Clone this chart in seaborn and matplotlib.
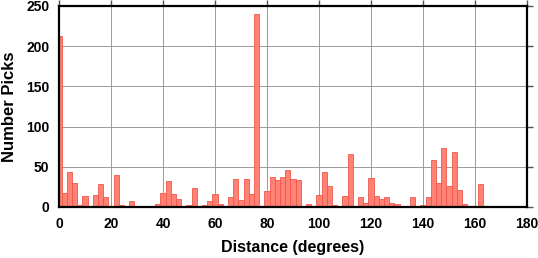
import numpy as np
import pandas as pd
import matplotlib
matplotlib.use("Agg")
import matplotlib.pyplot as plt
import seaborn as sns

# Histogram bins centred on even degrees (2-degree width)
distance_centers = list(range(0, 181, 2))
pick_counts = [
    213, 18, 43, 30, 2, 14, 0, 15, 28, 12,      # 0-18
    1, 40, 2, 0, 8, 0, 0, 0, 0, 4,              # 20-38
    18, 32, 16, 10, 0, 3, 24, 0, 3, 7,          # 40-58
    16, 4, 1, 12, 35, 9, 35, 16, 240, 0,        # 60-78
    20, 37, 34, 37, 46, 35, 34, 0, 4, 0,        # 80-98
    15, 43, 26, 2, 1, 14, 66, 0, 13, 5,         # 100-118
    36, 14, 10, 13, 5, 4, 0, 0, 12, 0,          # 120-138
    3, 12, 59, 30, 74, 26, 69, 21, 4, 0,        # 140-158
    1, 28, 1, 0, 0, 0, 0, 0, 0, 0,              # 160-178
    0,                                           # 180
]
x_ticks = [0, 20, 40, 60, 80, 100, 120, 140, 160, 180]
y_ticks = [0, 50, 100, 150, 200, 250]

df = pd.DataFrame({"distance": distance_centers, "count": pick_counts})

sns.set_style("white")
plt.rcParams["font.family"] = ["Liberation Sans", "DejaVu Sans"]
plt.rcParams["font.weight"] = "bold"
plt.rcParams["text.color"] = "black"
plt.rcParams["axes.labelcolor"] = "black"

fig = plt.figure(figsize=(5.38, 2.58), dpi=100)
ax = fig.add_axes([59 / 538, 1 - 207 / 258, 468 / 538, 201 / 258])

sns.histplot(data=df, x="distance", weights="count",
             binwidth=2, binrange=(-1, 181), ax=ax,
             color="#ff7b6e", alpha=0.95, edgecolor="#f0574c",
             linewidth=0.6)

ax.set_xlim(0, 180)
ax.set_ylim(0, 250)
ax.set_xticks(x_ticks)
ax.set_yticks(y_ticks)
ax.grid(True, color="#9a9a9a", linewidth=0.7, zorder=0)
ax.set_axisbelow(True)
for s in ax.spines.values():
    s.set_visible(True)
    s.set_color("black")
    s.set_linewidth(1.6)
ax.tick_params(axis="both", which="major", direction="out", length=4,
               width=1.0, color="#555555", labelcolor="black", labelsize=10,
               top=True, right=True, labeltop=False, labelright=False, pad=3)
for lab in ax.get_xticklabels() + ax.get_yticklabels():
    lab.set_fontweight("bold")
ax.set_xlabel("Distance (degrees)", fontsize=11.5, fontweight="bold", color="black")
ax.set_ylabel("Number Picks", fontsize=12, fontweight="bold", color="black")
ax.xaxis.set_label_coords(0.5, (207 - 240) / 201)
ax.yaxis.set_label_coords((17 - 59) / 468, 0.5)

fig.savefig("out.png", dpi=100)
